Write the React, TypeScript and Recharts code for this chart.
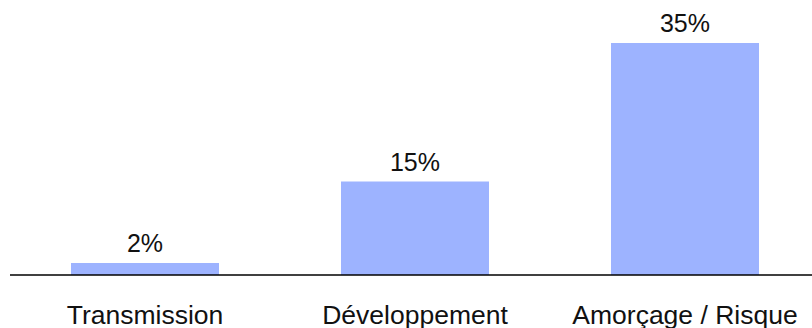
import React from 'react';
import { BarChart, Bar, XAxis, YAxis, LabelList } from 'recharts';

// categories and shares (bar heights), labels as printed
const categories = ['Transmission', 'Développement', 'Amorçage / Risque'];
const shares = [1.8, 14.1, 35];
const shareLabels = ['2%', '15%', '35%'];

const data = categories.map((name, i) => ({
  name,
  value: shares[i],
  label: shareLabels[i],
}));

const font = '"Liberation Sans", Arial, Helvetica, sans-serif';

export default function App() {
  return (
    <div
      style={{
        position: 'absolute',
        left: 0,
        top: 0,
        width: 812,
        height: 328,
        overflow: 'hidden',
        background: '#fff',
        fontFamily: font,
      }}
    >
      <BarChart
        width={822}
        height={328}
        data={data}
        margin={{ top: 43, right: 2, left: 10, bottom: 0 }}
        barCategoryGap={0}
      >
        <XAxis
          dataKey="name"
          height={53}
          axisLine={{ stroke: '#000', strokeWidth: 1.3 }}
          tickLine={false}
          tickMargin={24}
          interval={0}
          tick={{ fill: '#111', fontSize: 26.5, fontFamily: font }}
        />
        <YAxis hide domain={[0, 35]} />
        <Bar dataKey="value" fill="#9db3ff" barSize={148} isAnimationActive={false}>
          <LabelList
            dataKey="label"
            position="top"
            offset={11}
            fill="#111"
            fontSize={25}
            fontFamily={font}
          />
        </Bar>
      </BarChart>
    </div>
  );
}
